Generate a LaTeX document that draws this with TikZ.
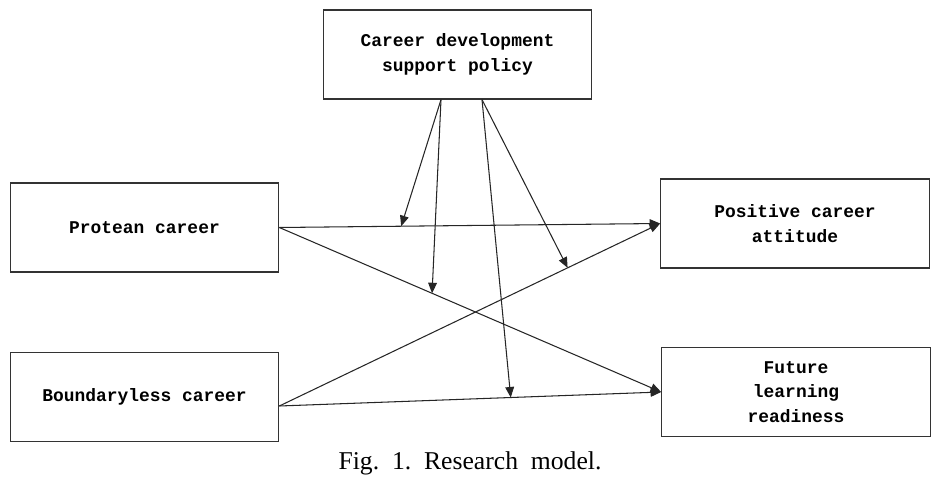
\documentclass[tikz,border=0pt]{standalone}
\usepackage{fontspec}
\setmainfont{Liberation Serif}
\setmonofont{Liberation Mono}
\usepackage{tikz}
\usetikzlibrary{arrows.meta, calc}

\begin{document}
\begin{tikzpicture}[
    x=0.02cm, y=-0.02cm,
    >={Triangle[length=6pt,width=5pt]},
    varbox/.style={
        rectangle,
        draw=black!80,
        line width=0.7pt,
        align=center,
        inner sep=0pt,
        minimum width=5.37cm,
        minimum height=1.78cm,
        font=\ttfamily\bfseries\fontsize{10.2}{14}\selectfont
    },
    seta/.style={->, line width=0.6pt, draw=black!85}
]
\useasboundingbox (0,0) rectangle (950,489);

% constructs
\node[varbox] (policy) at (457.5,54.5) {Career development\\support policy};
\node[varbox] (protean) at (144.5,227.5) {Protean career};
\node[varbox] (boundary) at (144.5,397) {Boundaryless career};
\node[varbox] (attitude) at (795,223.5) {Positive career\\attitude};
\node[varbox] (readiness) at (796,392) {Future\\learning\\readiness};

\coordinate (bout) at ($(boundary.east)+(0,9)$);

% main paths
\draw[seta] (protean.east) -- (attitude.west) coordinate[pos=0.32] (m1);
\draw[seta] (protean.east) -- (readiness.west) coordinate[pos=0.40] (m2);
\draw[seta] (bout) -- (readiness.west) coordinate[pos=0.606] (m3);
\draw[seta] (bout) -- (attitude.west) coordinate[pos=0.757] (m4);

% moderating paths
\coordinate (pl) at ($(policy.south)+(-16.5,0)$);
\coordinate (pr) at ($(policy.south)+(24.5,0)$);
\draw[seta] (pl) -- (m1);
\draw[seta] (pl) -- (m2);
\draw[seta] (pr) -- (m3);
\draw[seta] (pr) -- (m4);

\node[font=\fontsize{14.6}{18}\selectfont] (caption) at (470,463) {Fig.\ \ 1.\ \ Research\ \ model.};

\end{tikzpicture}
\end{document}
